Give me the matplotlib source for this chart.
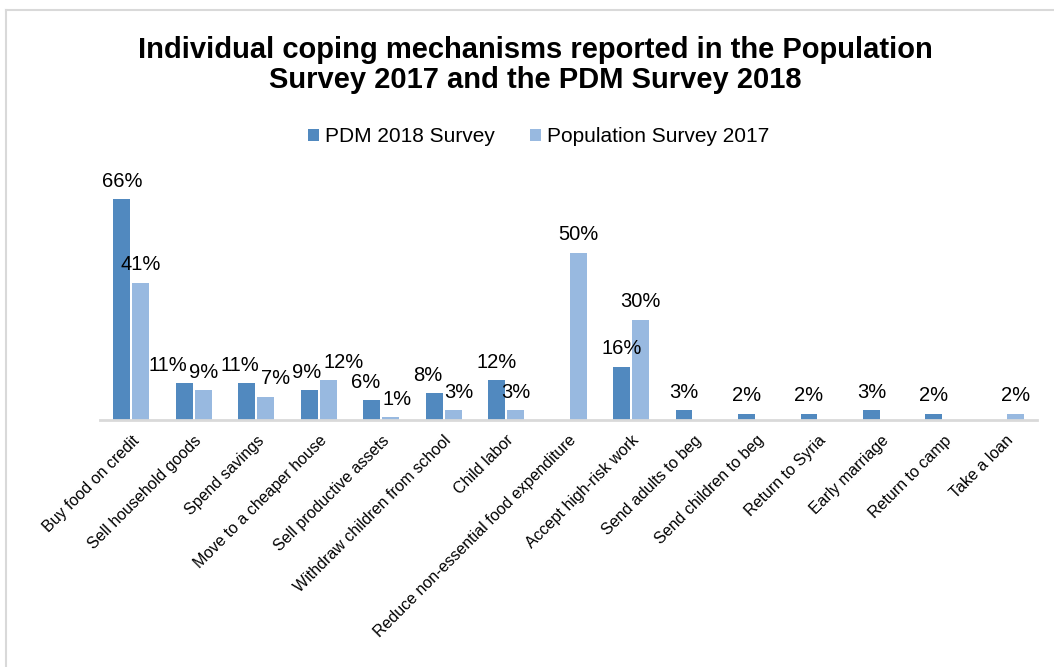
import numpy as np
import matplotlib.pyplot as plt
from matplotlib.lines import Line2D

# Datos del gráfico (None = sin barra)
categorias = ['Buy food on credit', 'Sell household goods', 'Spend savings',
              'Move to a cheaper house', 'Sell productive assets',
              'Withdraw children from school', 'Child labor',
              'Reduce non-essential food expenditure', 'Accept high-risk work',
              'Send adults to beg', 'Send children to beg', 'Return to Syria',
              'Early marriage', 'Return to camp', 'Take a loan']
pdm_2018 = [66, 11, 11, 9, 6, 8, 12, None, 16, 3, 2, 2, 3, 2, None]
pob_2017 = [41, 9, 7, 12, 1, 3, 3, 50, 30, None, None, None, None, None, 2]

plt.rcParams['font.family'] = ['Liberation Sans', 'DejaVu Sans']

fig = plt.figure(figsize=(10.54, 6.67), dpi=100)
ax = fig.add_axes([0.095, 0.370, 0.889, 0.352])

x = np.arange(len(categorias))
ancho = 0.27
sep = 0.035
c_oscuro = '#5189BF'
c_claro = '#98B9E0'
etiquetas = []

def dibujar(valores, desplaz, color, etiqueta):
    primera = True
    for i, v in enumerate(valores):
        if v is None:
            continue
        ax.bar(x[i] + desplaz, v, width=ancho, color=color,
               label=etiqueta if primera else None)
        primera = False
        etiquetas.append(ax.annotate(f'{v}%', (x[i] + desplaz, v), xytext=(0, 6),
                                     textcoords='offset points', ha='center',
                                     va='bottom', fontsize=14.5))

dibujar(pdm_2018, -(ancho + sep) / 2, c_oscuro, 'PDM 2018 Survey')
dibujar(pob_2017, (ancho + sep) / 2, c_claro, 'Population Survey 2017')

ax.set_xlim(-0.5, len(categorias) - 0.5)
ax.set_ylim(0, 70)
ax.set_xticks(x)
ax.set_xticklabels(categorias, rotation=45, ha='right', rotation_mode='anchor', fontsize=11.5)
ax.tick_params(axis='x', length=0, pad=9)
ax.set_yticks([])
for lado in ['top', 'right', 'left']:
    ax.spines[lado].set_visible(False)
ax.spines['bottom'].set_color('#D9D9D9')
ax.spines['bottom'].set_linewidth(2)

fig.text(0.508, 0.903, 'Individual coping mechanisms reported in the Population\nSurvey 2017 and the PDM Survey 2018',
         ha='center', va='center', fontsize=21, fontweight='bold', linespacing=1.1)

fig.legend(loc='center', bbox_to_anchor=(0.511, 0.795), ncol=2, frameon=False,
           fontsize=15, handlelength=0.5, handleheight=0.5, handletextpad=0.3,
           columnspacing=1.7)

# Separar horizontalmente las etiquetas que se tapan (como hace Excel)
fig.canvas.draw()
rend = fig.canvas.get_renderer()
etiquetas.sort(key=lambda a: a.xy[0])
cajas = [a.get_window_extent(rend) for a in etiquetas]
desp = [0.0] * len(etiquetas)
for _ in range(40):
    for k in range(len(etiquetas) - 1):
        a, b = cajas[k], cajas[k + 1]
        solape_y = min(a.y1, b.y1) - max(a.y0, b.y0)
        solape_x = (a.x1 + desp[k]) - (b.x0 + desp[k + 1]) + 2
        if solape_y > 0 and solape_x > 0:
            desp[k] -= solape_x / 2
            desp[k + 1] += solape_x / 2
for a, d in zip(etiquetas, desp):
    a.xyann = (d * 72 / fig.dpi, 6)

# Borde del gráfico (solo arriba e izquierda)
fig.add_artist(Line2D([0.006, 1.0], [0.985, 0.985], transform=fig.transFigure,
                      color='#D9D9D9', linewidth=1.5))
fig.add_artist(Line2D([0.006, 0.006], [0.0, 0.985], transform=fig.transFigure,
                      color='#D9D9D9', linewidth=1.5))

fig.savefig('out.png', dpi=100)
